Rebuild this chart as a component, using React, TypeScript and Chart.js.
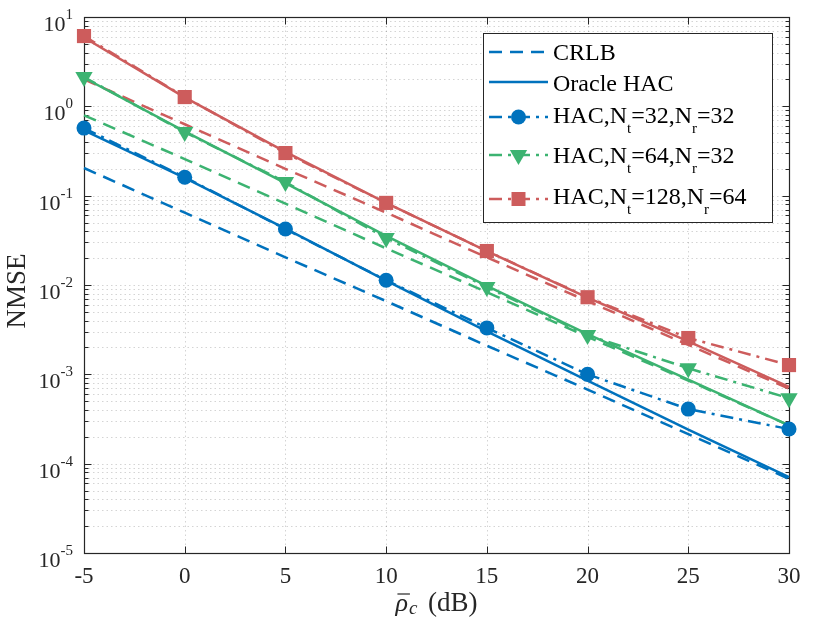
import React, { useEffect, useRef } from "react";
import { Chart, registerables } from "chart.js";

Chart.register(...registerables);

// ---------- data ----------
const snrDb = [-5, 0, 5, 10, 15, 20, 25, 30];

const crlb32 = [0.204, 0.0646, 0.0204, 0.0066, 0.00209, 0.000676, 0.000214, 0.0000676];
const oracle32 = [0.537, 0.158, 0.0427, 0.0112, 0.00302, 0.000851, 0.00024, 0.0000708];
const hac32 = [0.571, 0.161, 0.0423, 0.0113, 0.00331, 0.001, 0.000408, 0.000244];

const crlb64 = [0.794, 0.257, 0.0813, 0.0257, 0.00832, 0.00263, 0.000851, 0.000269];
const oracle64 = [2.09, 0.525, 0.138, 0.0355, 0.00977, 0.00282, 0.000871, 0.000269];
const hac64 = [2.13, 0.515, 0.142, 0.0335, 0.0095, 0.00275, 0.00117, 0.00054];

const crlb128 = [2.0, 0.63, 0.2, 0.0646, 0.0204, 0.0066, 0.00214, 0.000692];
const oracle128 = [5.89, 1.26, 0.309, 0.0832, 0.024, 0.00724, 0.00234, 0.000724];
const hac128 = [6.12, 1.27, 0.3, 0.083, 0.024, 0.0073, 0.00255, 0.00127];

const xTickValues = [-5, 0, 5, 10, 15, 20, 25, 30];
const xTickLabels = ["-5", "0", "5", "10", "15", "20", "25", "30"];
const yDecadeExponents = [-5, -4, -3, -2, -1, 0, 1];
const yDecadeLabels = ["-5", "-4", "-3", "-2", "-1", "0", "1"];

const legendLabels: { t: string; sub?: boolean }[][] = [
  [{ t: "CRLB" }],
  [{ t: "Oracle HAC" }],
  [{ t: "HAC,N" }, { t: "t", sub: true }, { t: "=32,N" }, { t: "r", sub: true }, { t: "=32" }],
  [{ t: "HAC,N" }, { t: "t", sub: true }, { t: "=64,N" }, { t: "r", sub: true }, { t: "=32" }],
  [{ t: "HAC,N" }, { t: "t", sub: true }, { t: "=128,N" }, { t: "r", sub: true }, { t: "=64" }],
];

// ---------- styles ----------
const BLUE = "#0072BD";
const GREEN = "#3CB371";
const RED = "#CD5C5C";
const AXIS = "#262626";
const FONT = "'Liberation Serif', 'Times New Roman', serif";
const DASH = [13, 8];
const DASHDOT = [13, 6, 3, 6];
const LW = 2.5;

const pts = (vals: number[]) => snrDb.map((x, i) => ({ x, y: vals[i] }));

function drawMarker(ctx: CanvasRenderingContext2D, style: string, x: number, y: number, color: string) {
  ctx.save();
  ctx.setLineDash([]);
  ctx.fillStyle = color;
  ctx.strokeStyle = color;
  ctx.beginPath();
  if (style === "circle") {
    ctx.arc(x, y, 7.5, 0, Math.PI * 2);
  } else if (style === "triangle") {
    const r = 10;
    ctx.moveTo(x, y + r);
    ctx.lineTo(x - r * Math.sin(Math.PI / 3), y - r / 2);
    ctx.lineTo(x + r * Math.sin(Math.PI / 3), y - r / 2);
    ctx.closePath();
  } else {
    const s = 7;
    ctx.rect(x - s, y - s, 2 * s, 2 * s);
  }
  ctx.fill();
  ctx.restore();
}

const axesPlugin = {
  id: "matlabAxes",
  beforeDatasetsDraw(chart: any) {
    const { ctx, chartArea: a, scales } = chart;
    const xs = scales.x;
    const ys = scales.y;
    ctx.save();

    // grid (dotted)
    ctx.strokeStyle = "rgba(38,38,38,0.2)";
    ctx.lineWidth = 1;
    ctx.setLineDash([1.5, 3]);
    for (const v of xTickValues) {
      const px = Math.round(xs.getPixelForValue(v)) + 0.5;
      if (px <= a.left + 1 || px >= a.right - 1) continue;
      ctx.beginPath();
      ctx.moveTo(px, a.top);
      ctx.lineTo(px, a.bottom);
      ctx.stroke();
    }
    const yMinor: number[] = [];
    const yMajor: number[] = [];
    for (const e of yDecadeExponents) {
      yMajor.push(Math.pow(10, e));
      if (e < 1) for (let m = 2; m <= 9; m++) yMinor.push(m * Math.pow(10, e));
    }
    for (const v of [...yMajor, ...yMinor]) {
      const py = Math.round(ys.getPixelForValue(v)) + 0.5;
      if (py <= a.top + 1 || py >= a.bottom - 1) continue;
      ctx.beginPath();
      ctx.moveTo(a.left, py);
      ctx.lineTo(a.right, py);
      ctx.stroke();
    }
    ctx.setLineDash([]);

    // frame
    ctx.strokeStyle = AXIS;
    ctx.lineWidth = 1.2;
    const L = Math.round(a.left) + 0.5, R = Math.round(a.right) + 0.5;
    const T = Math.round(a.top) + 0.5, B = Math.round(a.bottom) + 0.5;
    ctx.strokeRect(L, T, R - L, B - T);

    // ticks (inward)
    ctx.lineWidth = 1;
    ctx.beginPath();
    for (const v of xTickValues) {
      const px = Math.round(xs.getPixelForValue(v)) + 0.5;
      ctx.moveTo(px, B); ctx.lineTo(px, B - 7);
      ctx.moveTo(px, T); ctx.lineTo(px, T + 7);
    }
    for (const v of yMajor) {
      const py = Math.round(ys.getPixelForValue(v)) + 0.5;
      ctx.moveTo(L, py); ctx.lineTo(L + 7, py);
      ctx.moveTo(R, py); ctx.lineTo(R - 7, py);
    }
    for (const v of yMinor) {
      const py = Math.round(ys.getPixelForValue(v)) + 0.5;
      ctx.moveTo(L, py); ctx.lineTo(L + 4, py);
      ctx.moveTo(R, py); ctx.lineTo(R - 4, py);
    }
    ctx.stroke();

    // x tick labels
    ctx.fillStyle = AXIS;
    ctx.font = `23px ${FONT}`;
    ctx.textAlign = "center";
    ctx.textBaseline = "alphabetic";
    xTickValues.forEach((v, i) => {
      ctx.fillText(xTickLabels[i], xs.getPixelForValue(v), 583);
    });

    // y tick labels 10^e
    const rightEdge = a.left - 11;
    yDecadeExponents.forEach((e, i) => {
      const py = ys.getPixelForValue(Math.pow(10, e));
      ctx.textAlign = "right";
      ctx.font = `15px ${FONT}`;
      const ew = ctx.measureText(yDecadeLabels[i]).width;
      ctx.fillText(yDecadeLabels[i], rightEdge, py + 2);
      ctx.font = `22px ${FONT}`;
      ctx.fillText("10", rightEdge - ew, py + 14);
    });

    // y title
    ctx.save();
    ctx.translate(25, (a.top + a.bottom) / 2 + 6);
    ctx.rotate(-Math.PI / 2);
    ctx.textAlign = "center";
    ctx.font = `27px ${FONT}`;
    ctx.fillText("NMSE", 0, 0);
    ctx.restore();

    // x title: rho-bar_c (dB)
    ctx.textAlign = "left";
    const rho = "ρ";
    const rest = " (dB)";
    ctx.font = `italic 26px ${FONT}`;
    const wRho = ctx.measureText(rho).width;
    ctx.font = `italic 19px ${FONT}`;
    const wC = ctx.measureText("c").width;
    ctx.font = `27px ${FONT}`;
    const wRest = ctx.measureText(rest).width;
    const total = wRho + 1 + wC + 4 + wRest;
    let tx = (a.left + a.right) / 2 - total / 2;
    const base = 611;
    ctx.font = `italic 26px ${FONT}`;
    ctx.fillText(rho, tx, base);
    ctx.lineWidth = 1.2;
    ctx.beginPath();
    ctx.moveTo(tx + 2, base - 17);
    ctx.lineTo(tx + wRho + 2, base - 17);
    ctx.stroke();
    tx += wRho + 1;
    ctx.font = `italic 19px ${FONT}`;
    ctx.fillText("c", tx, base + 3);
    tx += wC + 4;
    ctx.font = `27px ${FONT}`;
    ctx.fillText(rest, tx, base);

    ctx.restore();
  },
  afterDraw(chart: any) {
    const { ctx } = chart;
    ctx.save();
    const box = { x: 483.5, y: 33.5, w: 289, h: 189 };
    ctx.fillStyle = "#ffffff";
    ctx.fillRect(box.x, box.y, box.w, box.h);
    ctx.strokeStyle = AXIS;
    ctx.lineWidth = 1;
    ctx.strokeRect(box.x, box.y, box.w, box.h);

    const entries = [
      { color: BLUE, dash: DASH, marker: "" },
      { color: BLUE, dash: [] as number[], marker: "" },
      { color: BLUE, dash: DASHDOT, marker: "circle" },
      { color: GREEN, dash: DASHDOT, marker: "triangle" },
      { color: RED, dash: DASHDOT, marker: "rect" },
    ];
    const baselines = [60, 91, 123, 163, 204];
    const lineYs = [52, 82, 117, 155, 199];
    const x0 = 489, x1 = 548, tx0 = 553;
    entries.forEach((en, i) => {
      const ly = lineYs[i];
      ctx.strokeStyle = en.color;
      ctx.lineWidth = LW;
      ctx.setLineDash(en.dash);
      ctx.beginPath();
      ctx.moveTo(x0, ly);
      ctx.lineTo(x1, ly);
      ctx.stroke();
      ctx.setLineDash([]);
      if (en.marker) drawMarker(ctx, en.marker, (x0 + x1) / 2, ly, en.color);

      let tx = tx0;
      ctx.fillStyle = "#000000";
      ctx.textAlign = "left";
      ctx.textBaseline = "alphabetic";
      for (const part of legendLabels[i]) {
        if (part.sub) {
          ctx.font = `15px ${FONT}`;
          ctx.fillText(part.t, tx, baselines[i] + 10);
        } else {
          ctx.font = `24px ${FONT}`;
          ctx.fillText(part.t, tx, baselines[i]);
        }
        tx += ctx.measureText(part.t).width;
      }
    });
    ctx.restore();
  },
};

export default function App() {
  const ref = useRef<HTMLCanvasElement>(null);
  useEffect(() => {
    document.body.style.margin = "0";
    const line = (data: number[], color: string, dash: number[], marker?: string, radius = 0) => ({
      data: pts(data),
      borderColor: color,
      backgroundColor: color,
      borderWidth: LW,
      borderDash: dash,
      pointStyle: marker || "circle",
      pointRadius: radius,
      pointRotation: marker === "triangle" ? 180 : 0,
      pointBorderWidth: 0,
      pointHoverRadius: radius,
      tension: 0,
      clip: false as any,
    });
    const chart = new Chart(ref.current!, {
      type: "line",
      data: {
        datasets: [
          line(hac32, BLUE, DASHDOT, "circle", 7.5),
          line(hac64, GREEN, DASHDOT, "triangle", 10),
          line(hac128, RED, DASHDOT, "rect", 10),
          line(oracle32, BLUE, []),
          line(oracle64, GREEN, []),
          line(oracle128, RED, []),
          line(crlb32, BLUE, DASH),
          line(crlb64, GREEN, DASH),
          line(crlb128, RED, DASH),
        ] as any,
      },
      options: {
        responsive: false,
        animation: false,
        devicePixelRatio: 1,
        layout: { padding: { left: 84, top: 17, right: 41, bottom: 70 } },
        plugins: { legend: { display: false }, tooltip: { enabled: false } },
        events: [],
        scales: {
          x: { type: "linear", min: -5, max: 30, display: false },
          y: { type: "logarithmic", min: 1e-5, max: 10, display: false },
        },
      },
      plugins: [axesPlugin as any],
    });
    return () => chart.destroy();
  }, []);
  return (
    <div style={{ position: "absolute", left: 0, top: 0, width: 830, height: 623, background: "#fff" }}>
      <canvas ref={ref} width={830} height={623} />
    </div>
  );
}
